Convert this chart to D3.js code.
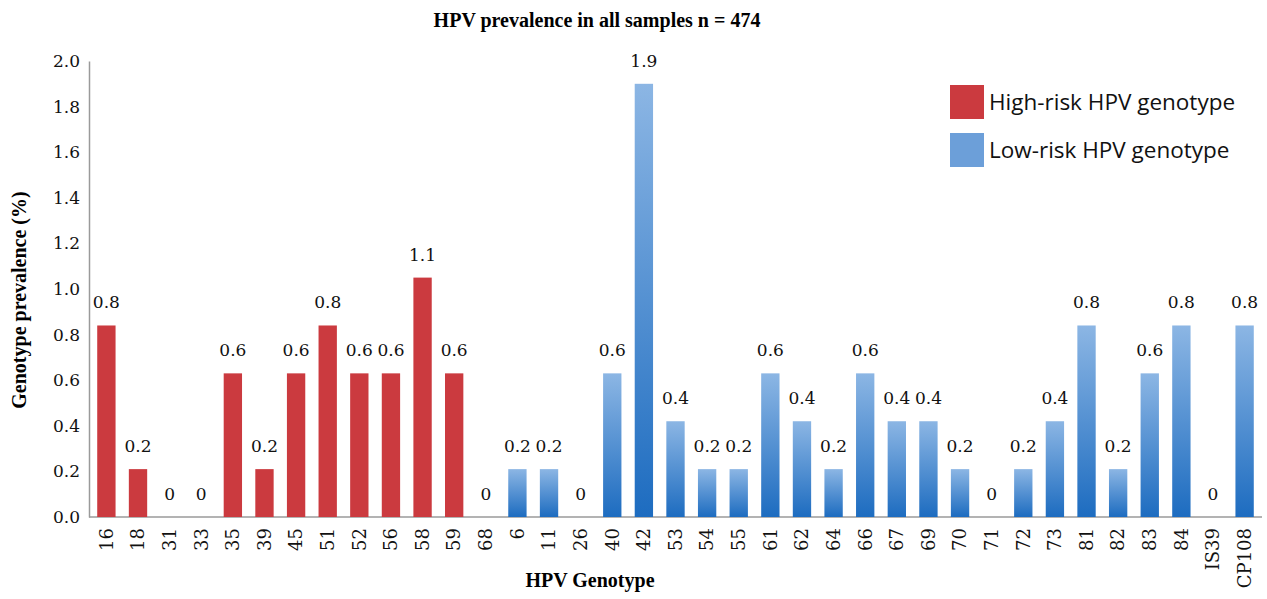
<!DOCTYPE html>
<html>
<head>
<meta charset="UTF-8">
<title>HPV prevalence</title>
<script src="https://d3js.org/d3.v7.min.js"></script>
<style>
  body { margin: 0; background: #fff; }
  svg { display: block; }
  .tick text { font-family: "DejaVu Serif", "Liberation Serif", serif; font-size: 17px; fill: #111; }
</style>
</head>
<body>
<svg></svg>
<script>
// genotypes, grouped by risk
const highRisk = ["16","18","31","33","35","39","45","51","52","56","58","59","68"];
const lowRisk = ["6","11","26","40","42","53","54","55","61","62","64","66","67","69","70","71","72","73","81","82","83","84","IS39","CP108"];
const genotypes = highRisk.concat(lowRisk);
// prevalence (%) as drawn
const prevalence = [0.84,0.21,0,0,0.63,0.21,0.63,0.84,0.63,0.63,1.05,0.63,0,
                    0.21,0.21,0,0.63,1.9,0.42,0.21,0.21,0.63,0.42,0.21,0.63,0.42,0.42,0.21,0,0.21,0.42,0.84,0.21,0.63,0.84,0,0.84];
const valueLabels = ["0.8","0.2","0","0","0.6","0.2","0.6","0.8","0.6","0.6","1.1","0.6","0",
                     "0.2","0.2","0","0.6","1.9","0.4","0.2","0.2","0.6","0.4","0.2","0.6","0.4","0.4","0.2","0","0.2","0.4","0.8","0.2","0.6","0.8","0","0.8"];
const yTicks = [0,0.2,0.4,0.6,0.8,1.0,1.2,1.4,1.6,1.8,2.0];
const legendItems = ["High-risk HPV genotype","Low-risk HPV genotype"];

const W = 1267, H = 599;
const mLeft = 89, mRight = 1262, mTop = 61, mBottom = 517;

const data = genotypes.map((g,i) => ({g, v: prevalence[i], label: valueLabels[i], high: i < highRisk.length}));

const svg = d3.select("svg").attr("width", W).attr("height", H);

const defs = svg.append("defs");
const grad = defs.append("linearGradient")
  .attr("id","blueGrad").attr("x1",0).attr("y1",0).attr("x2",0).attr("y2",1);
grad.append("stop").attr("offset","0%").attr("stop-color","#8cb6e4");
grad.append("stop").attr("offset","100%").attr("stop-color","#1d6cc0");

const x = d3.scaleBand().domain(genotypes).range([mLeft, mRight]).paddingInner(0.42).paddingOuter(0.26);
const y = d3.scaleLinear().domain([0, 2]).range([mBottom, mTop]);

// y axis
const yAxis = svg.append("g").attr("transform", `translate(${mLeft},0)`)
  .call(d3.axisLeft(y).tickValues(yTicks).tickFormat(d3.format(".1f")).tickSize(0).tickPadding(9));
yAxis.select(".domain").attr("stroke","#9a9a9a").attr("stroke-width",1.5);

// x axis
const xAxis = svg.append("g").attr("transform", `translate(0,${mBottom})`)
  .call(d3.axisBottom(x).tickSize(0).tickPadding(0));
xAxis.select(".domain").attr("stroke","#9a9a9a").attr("stroke-width",1.5).attr("d", `M${mLeft},0H${mRight}`);
xAxis.selectAll(".tick text")
  .attr("transform","rotate(-90)")
  .attr("text-anchor","end")
  .attr("x", -11)
  .attr("y", 0)
  .attr("dy","0.35em")
  .style("font-size","18px");

// bars
svg.append("g").selectAll("rect")
  .data(data.filter(d => d.v > 0))
  .join("rect")
  .attr("x", d => x(d.g))
  .attr("width", x.bandwidth())
  .attr("y", d => y(d.v))
  .attr("height", d => y(0) - y(d.v))
  .attr("fill", d => d.high ? "#cb3a3f" : "url(#blueGrad)");

// value labels
svg.append("g").selectAll("text")
  .data(data)
  .join("text")
  .attr("x", d => x(d.g) + x.bandwidth()/2)
  .attr("y", d => y(d.v) - 17)
  .attr("text-anchor","middle")
  .style("font-family","'DejaVu Serif', 'Liberation Serif', serif")
  .style("font-size","17px")
  .attr("fill","#111")
  .text(d => d.label);

// title
svg.append("text")
  .attr("x", 597).attr("y", 27)
  .attr("text-anchor","middle")
  .style("font-family","'Liberation Serif', serif")
  .style("font-weight","bold")
  .style("font-size","20px")
  .text("HPV prevalence in all samples n = 474");

// axis titles
svg.append("text")
  .attr("x", 590).attr("y", 587)
  .attr("text-anchor","middle")
  .style("font-family","'Liberation Serif', serif")
  .style("font-weight","bold")
  .style("font-size","20px")
  .text("HPV Genotype");

svg.append("text")
  .attr("transform", "translate(26,300) rotate(-90)")
  .attr("text-anchor","middle")
  .style("font-family","'Liberation Serif', serif")
  .style("font-weight","bold")
  .style("font-size","20px")
  .text("Genotype prevalence (%)");

// legend
const legend = svg.append("g").attr("transform","translate(950,85)");
const lg = legend.selectAll("g").data(legendItems).join("g")
  .attr("transform", (d,i) => `translate(0,${i*48})`);
lg.append("rect").attr("width",34).attr("height",34)
  .attr("fill", (d,i) => i === 0 ? "#cb3a3f" : "#6c9fd9");
lg.append("text").attr("x", 39).attr("y", 17).attr("dy","0.35em")
  .style("font-family","'Open Sans', sans-serif")
  .style("font-size","22.5px")
  .attr("fill","#111")
  .text(d => d);
</script>
</body>
</html>
